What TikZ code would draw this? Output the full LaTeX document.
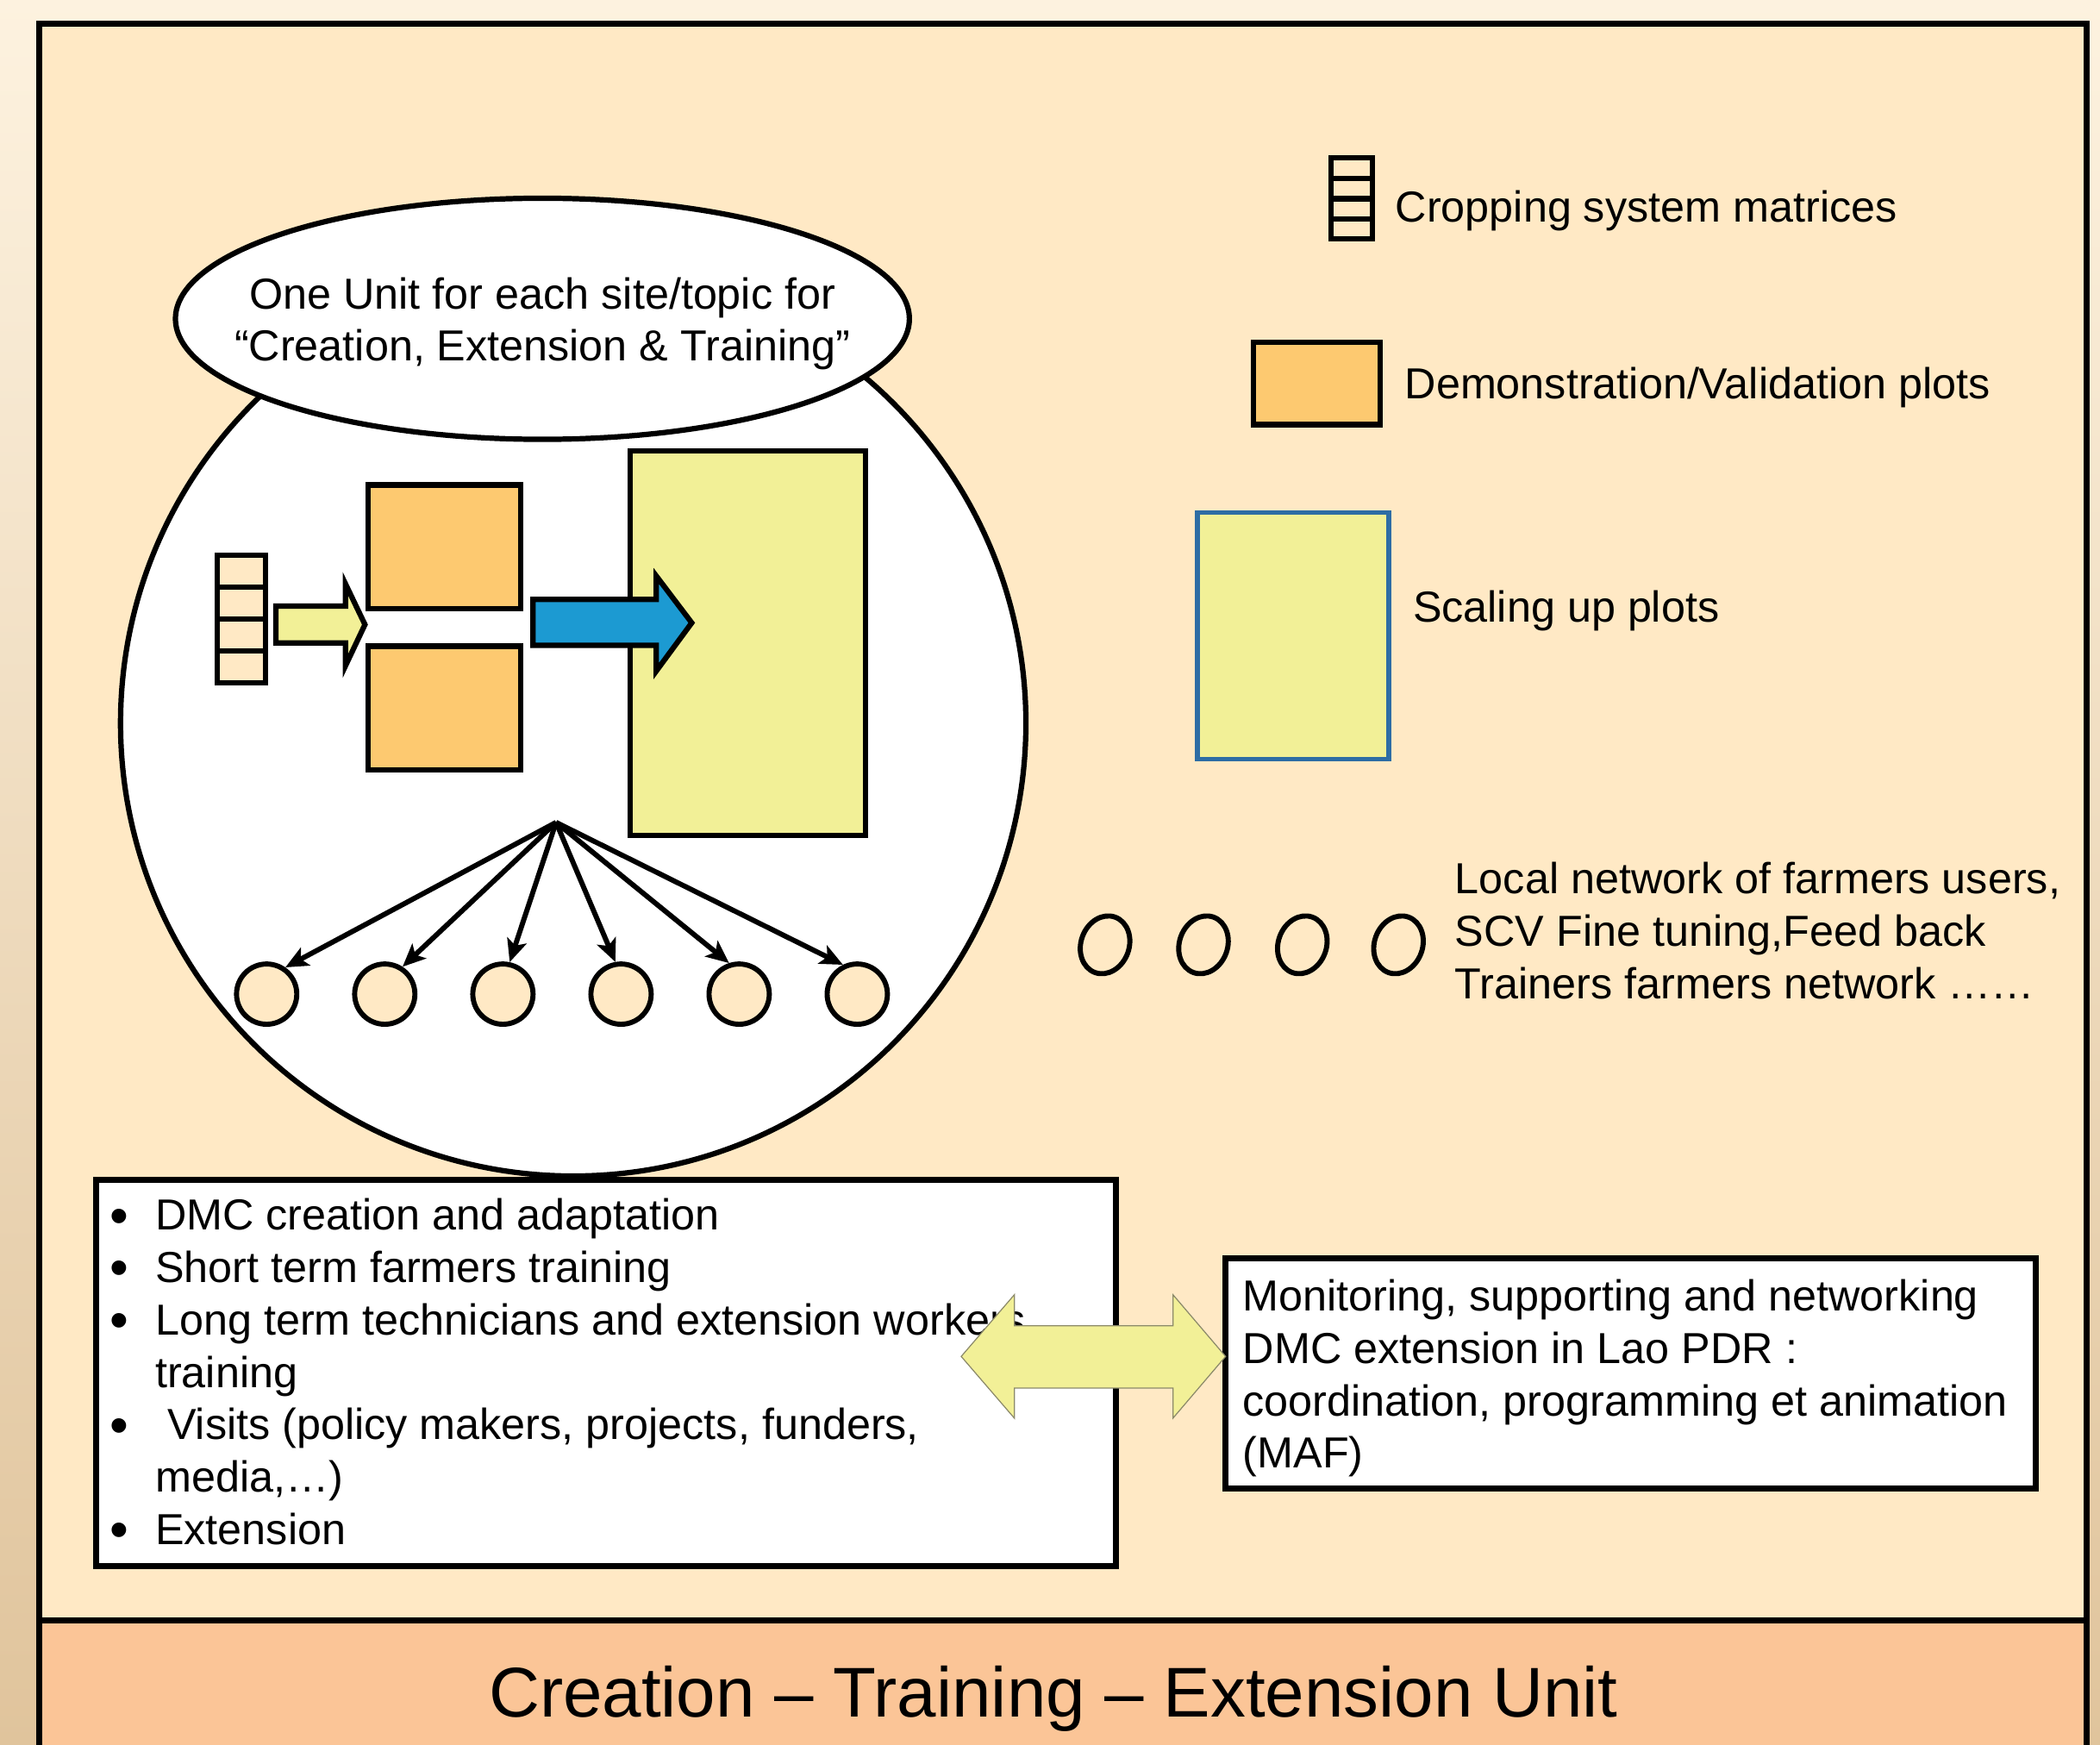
\documentclass[tikz,border=0pt]{standalone}
\usepackage{fontspec}
\setmainfont{Liberation Sans}
\usetikzlibrary{arrows.meta,shapes.geometric}
\definecolor{bgpeach}{HTML}{FFE9C5}
\definecolor{band}{HTML}{FBC597}
\definecolor{plotorange}{HTML}{FDC970}
\definecolor{plotyellow}{HTML}{F2F097}
\definecolor{arrowblue}{HTML}{1C9AD2}
\definecolor{legblue}{HTML}{2E6DA4}
\definecolor{outertop}{HTML}{FDF2DF}
\definecolor{outerbot}{HTML}{E0C49C}
\definecolor{dbledge}{HTML}{8C8A6A}
\begin{document}
\begin{tikzpicture}[x=1pt,y=-1pt,
  txt/.style={font=\fontsize{32.4}{39}\selectfont, inner sep=0pt, outer sep=0pt, anchor=base west},
  txtc/.style={font=\fontsize{32.4}{39}\selectfont, inner sep=0pt, outer sep=0pt, anchor=base},
  bulletmark/.style={font=\fontsize{40}{40}\selectfont, inner sep=0pt, outer sep=0pt, anchor=base},
  plotbox/.style={draw=black, line width=4pt, rectangle, inner sep=0pt},
  textbox/.style={draw=black, line width=4.5pt, rectangle, fill=white, inner sep=0pt},
  member/.style={circle, draw=black, fill=bgpeach, line width=3.8pt, minimum size=45pt, inner sep=0pt},
  netmember/.style={ellipse, draw=black, line width=3.8pt, minimum width=36pt, minimum height=44pt, inner sep=0pt, rotate=-20},
  fan/.style={draw=black, line width=3.8pt, -{Stealth[length=17pt,width=15pt,inset=4pt]}},
  blockarrow/.style={draw=black, line width=4pt, line join=miter},
]
\useasboundingbox (0,0) rectangle (1568,1302.8);
\shade[top color=outertop, bottom color=outerbot] (0,0) rectangle (1568,1302.8);

% frame and bottom band
\fill[bgpeach] (29,18) rectangle (1558,1210);
\fill[band] (29,1210) rectangle (1558,1340);
\draw[line width=4.5pt] (29,1340) -- (29,18) -- (1558,18) -- (1558,1340);
\draw[line width=4.5pt] (29,1210) -- (1558,1210);
\node[font=\fontsize{52.6}{60}\selectfont, anchor=base, inner sep=0pt] (title) at (786.5,1281.7) {Creation – Training – Extension Unit};

% the unit circle and its label ellipse
\node[circle, draw=black, fill=white, line width=4pt, minimum size=676pt, inner sep=0pt] (unit) at (428,540) {};
\node[ellipse, draw=black, fill=white, line width=4pt, minimum width=548pt, minimum height=180pt, inner sep=0pt] (unitlabel) at (405,238) {};
\node[txtc] (ul1) at (405,230.6) {One Unit for each site/topic for};
\node[txtc] (ul2) at (405,269.4) {“Creation, Extension \& Training”};

% cropping system matrix inside the unit
\node[plotbox, fill=bgpeach, minimum width=36pt, minimum height=95.5pt] (mat) at (180,462.25) {};
\draw[line width=4pt] (162,438.4) -- (198,438.4) (162,462.3) -- (198,462.3) (162,486.1) -- (198,486.1);

% small yellow arrow
\draw[blockarrow, fill=plotyellow] (206,452.5) -- (258,452.5) -- (258,436) -- (272.5,466.3) -- (258,497) -- (258,480) -- (206,480) -- cycle;

% demonstration plots
\node[plotbox, fill=plotorange, minimum width=114pt, minimum height=92.5pt] (demo1) at (332,408.25) {};
\node[plotbox, fill=plotorange, minimum width=114pt, minimum height=92.5pt] (demo2) at (332,528.75) {};

% scaling up plot
\node[plotbox, fill=plotyellow, minimum width=175.5pt, minimum height=287pt] (scale) at (558.25,480) {};

% blue arrow
\draw[blockarrow, fill=arrowblue] (398,447.5) -- (490,447.5) -- (490,430) -- (516.5,465) -- (490,501) -- (490,481.8) -- (398,481.8) -- cycle;

% fan of farmers
\coordinate (hub) at (415.2,614);
\node[member] (c1) at (199.1,742.2) {};
\node[member] (c2) at (287.3,742.2) {};
\node[member] (c3) at (375.5,742.2) {};
\node[member] (c4) at (463.7,742.2) {};
\node[member] (c5) at (551.9,742.2) {};
\node[member] (c6) at (640.1,742.2) {};
\draw[fan] (hub) -- (c1.55);
\draw[fan] (hub) -- (c2.57);
\draw[fan] (hub) -- (c3.78);
\draw[fan] (hub) -- (c4.100);
\draw[fan] (hub) -- (c5.108);
\draw[fan] (hub) -- (c6.116);

% legend
\node[plotbox, minimum width=30.5pt, minimum height=60.5pt] (legmat) at (1009.25,148.25) {};
\draw[line width=4pt] (994,133.1) -- (1024.5,133.1) (994,148.3) -- (1024.5,148.3) (994,163.4) -- (1024.5,163.4);
\node[txt] (lg1) at (1042,166) {Cropping system matrices};

\node[plotbox, fill=plotorange, minimum width=94.5pt, minimum height=61.5pt] (legdemo) at (983.25,286.25) {};
\node[txt] (lg2) at (1049,298) {Demonstration/Validation plots};

\node[draw=legblue, line width=3.5pt, fill=plotyellow, rectangle, inner sep=0pt, minimum width=143pt, minimum height=184.3pt] (legscale) at (965.5,474.65) {};
\node[txt] (lg3) at (1055,464.5) {Scaling up plots};

\node[netmember] (n1) at (825.1,705.4) {};
\node[netmember] (n2) at (898.6,705.4) {};
\node[netmember] (n3) at (972.4,705.4) {};
\node[netmember] (n4) at (1044.2,705.4) {};
\node[txt] (ln1) at (1086.5,667.3) {Local network of farmers users,};
\node[txt] (ln2) at (1086.5,706.3) {SCV Fine tuning,Feed back};
\node[txt] (ln3) at (1086.5,745.4) {Trainers farmers network ……};

% activities box
\node[textbox, minimum width=761.5pt, minimum height=288.4pt] (acts) at (452.75,1024.8) {};
\foreach \i/\yy in {1/918.5,2/957.6,3/996.7,5/1074.9,7/1153.1}
  \node[bulletmark] (bul\i) at (89,\yy+2.7) {•};
\node[txt] (a1) at (116,918.5) {DMC creation and adaptation};
\node[txt] (a2) at (116,957.6) {Short term farmers training};
\node[txt] (a3) at (116,996.7) {Long term technicians and extension workers};
\node[txt] (a4) at (116,1035.8) {training};
\node[txt] (a5) at (125,1074.9) {Visits (policy makers, projects, funders,};
\node[txt] (a6) at (116,1114) {media,…)};
\node[txt] (a7) at (116,1153.1) {Extension};

% coordination box
\node[textbox, minimum width=605pt, minimum height=172pt] (coord) at (1217.5,1025.5) {};
\node[txt] (m1) at (928,978.8) {Monitoring, supporting and networking};
\node[txt] (m2) at (928,1017.9) {DMC extension in Lao PDR :};
\node[txt] (m3) at (928,1057) {coordination, programming et animation};
\node[txt] (m4) at (928,1096.1) {(MAF)};

% double arrow between boxes
\draw[fill=plotyellow, draw=dbledge, line width=0.8pt, line join=miter]
  (717.7,1012.7) -- (757.4,966.6) -- (757.4,989.8) -- (875.8,989.8) -- (875.8,966.6)
  -- (915.1,1012.7) -- (875.8,1058.8) -- (875.8,1036.3) -- (757.4,1036.3) -- (757.4,1058.8) -- cycle;
\end{tikzpicture}
\end{document}
